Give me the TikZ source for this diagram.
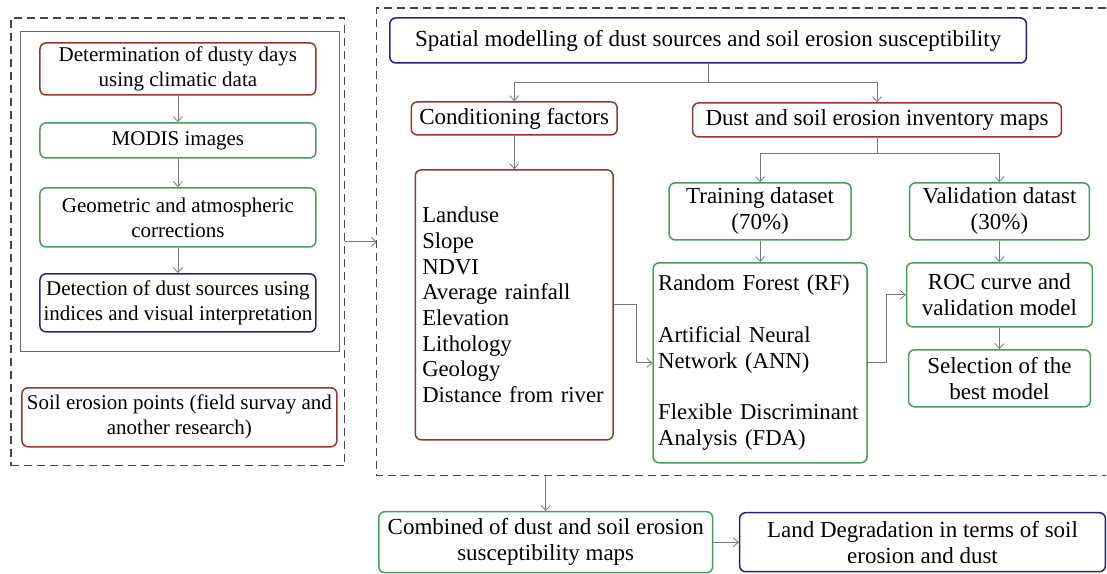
\documentclass[tikz,border=0pt]{standalone}
\usepackage{fontspec}
\setmainfont{Liberation Serif}
\usetikzlibrary{arrows.meta}
\definecolor{boxred}{RGB}{150,52,46}
\definecolor{boxgreen}{RGB}{72,156,94}
\definecolor{boxblue}{RGB}{36,36,128}
\definecolor{linegray}{RGB}{120,120,120}
\definecolor{dashgray}{RGB}{70,70,70}

\begin{document}
\begin{tikzpicture}[x=1pt, y=-1pt,
    box/.style={draw, rounded corners=6pt, line width=1.5pt, align=center, inner sep=2pt, font=\fontsize{23}{26}\selectfont},
    redbox/.style={box, draw=boxred},
    greenbox/.style={box, draw=boxgreen},
    bluebox/.style={box, draw=boxblue},
    leftfont/.style={font=\fontsize{21}{25}\selectfont},
    listbox/.style={align=left, text width=184pt, inner xsep=7pt, font=\fontsize{22.7}{25.7}\selectfont},
    grp/.style={draw=dashgray, dash pattern=on 8pt off 5pt, line width=1.2pt},
    line/.style={draw=linegray, line width=0.8pt},
    arr/.style={line, ->},
    >={Straight Barb[length=5pt, width=9pt]}]
            \fill[white] (0,0) rectangle (1107,574);

            \node[grp, minimum width=334pt, minimum height=448pt] (Left) at (178,242) {};
            \node[draw=black!60, line width=1pt, minimum width=319pt, minimum height=320pt] (Inner) at (180.5,192) {};
            \draw[grp] (1107,8) -| (377,476) -- (1107,476);
            \coordinate (Rw) at (377,242);
            \coordinate (Rs) at (546,476);

            \node[redbox, leftfont, minimum width=276pt, minimum height=52pt] (Det) at (178,69) {Determination of dusty days\\using climatic data};
            \node[greenbox, leftfont, minimum width=276pt, minimum height=35pt] (Mod) at (178,140.5) {MODIS images};
            \node[greenbox, leftfont, minimum width=276pt, minimum height=59pt] (Geo) at (178,217.5) {Geometric and atmospheric\\corrections};
            \node[bluebox, leftfont, minimum width=276pt, minimum height=58pt] (Src) at (178,303) {Detection of dust sources using\\indices and visual interpretation};
            \node[redbox, leftfont, minimum width=315pt, minimum height=59pt] (Soil) at (179.5,417.5) {Soil erosion points (field survay and\\another research)};

            \node[bluebox, minimum width=637pt, minimum height=45pt] (Spa) at (708.5,40.5) {Spatial modelling of dust sources and soil erosion susceptibility};
            \node[redbox, minimum width=206pt, minimum height=33pt] (Con) at (514.5,118.5) {Conditioning factors};
            \node[redbox, minimum width=369pt, minimum height=34pt] (Inv) at (877.5,120) {Dust and soil erosion inventory maps};
            \node[redbox, listbox, minimum height=270pt] (Fac) at (514.5,305) {Landuse\\Slope\\NDVI\\Average rainfall\\Elevation\\Lithology\\Geology\\Distance from river};
            \node[greenbox, minimum width=182pt, minimum height=57pt] (Tra) at (760.5,211.5) {Training dataset\\(70\%)};
            \node[greenbox, minimum width=180pt, minimum height=57pt] (Val) at (1000,211.5) {Validation datast\\(30\%)};
            \node[greenbox, listbox, text width=204pt, inner xsep=5pt, minimum height=200pt] (Mdl) at (760.5,363) {Random Forest (RF)\\[26pt]Artificial Neural\\Network (ANN)\\[26pt]Flexible Discriminant\\Analysis (FDA)};
            \node[greenbox, minimum width=186pt, minimum height=64pt] (Roc) at (1000,295) {ROC curve and\\validation model};
            \node[greenbox, minimum width=182pt, minimum height=57pt] (Best) at (1000,378.5) {Selection of the\\best model};

            \node[greenbox, minimum width=334pt, minimum height=61pt] (Comb) at (546,542.5) {Combined of dust and soil erosion\\susceptibility maps};
            \node[bluebox, minimum width=366pt, minimum height=59pt] (Land) at (923,542.5) {Land Degradation in terms of soil\\erosion and dust};

            \draw[arr] (Det) -- (Mod);
            \draw[arr] (Mod) -- (Geo);
            \draw[arr] (Geo) -- (Src);
            \draw[arr] (Left.east) -- (Rw);
            \draw[line] (Spa.south) -- ++(0,19) coordinate (Sp);
            \draw[arr] (Sp) -| (Con.north);
            \draw[arr] (Sp) -| (Inv.north);
            \draw[arr] (Con) -- (Fac);
            \draw[line] (Inv.south) -- ++(0,16) coordinate (Iv);
            \draw[arr] (Iv) -| (Tra.north);
            \draw[arr] (Iv) -| (Val.north);
            \draw[arr] (Tra) -- (Mdl);
            \draw[arr] (Val) -- (Roc);
            \draw[arr] (Roc) -- (Best);
            \draw[arr] (Fac.east) -- ++(22,0) |- (Mdl.west);
            \draw[arr] (Mdl.east) -- ++(19,0) |- (Roc.west);
            \draw[arr] (Rs) -- (Comb.north);
            \draw[arr] (Comb) -- (Land);
        \end{tikzpicture}
\end{document}
